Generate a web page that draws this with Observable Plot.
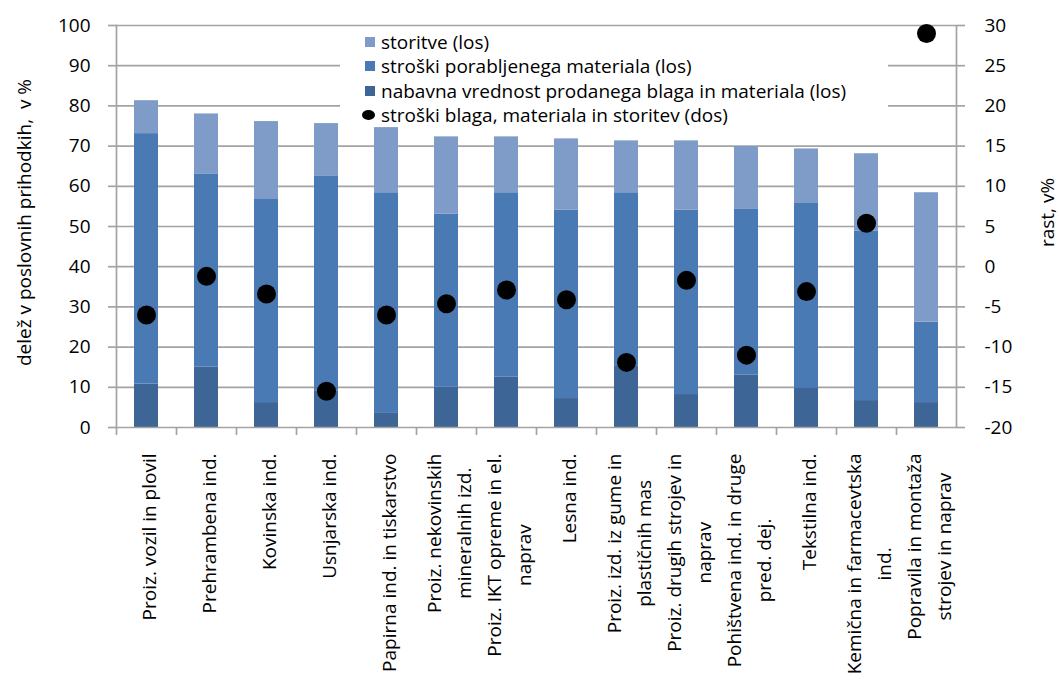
<!DOCTYPE html>
<html>
<head>
<meta charset="utf-8">
<script src="https://cdn.jsdelivr.net/npm/d3@7"></script>
<script src="https://cdn.jsdelivr.net/npm/@observablehq/plot@0.6"></script>
<style>
  html, body { margin: 0; padding: 0; background: #fff; }
  #wrap { position: relative; width: 1059px; height: 682px; font-family: "Open Sans", sans-serif; color: #000; }
  #legend { position: absolute; left: 340px; top: 28px; width: 548px; height: 98px; background: #fff; font-size: 19px; box-sizing: border-box; padding-top: 2px; }
  #legend .row { height: 24.3px; line-height: 24.3px; display: flex; align-items: center; white-space: nowrap; }
  #legend .sw { display: inline-block; width: 10px; height: 10px; margin-left: 25px; margin-right: 6px; }
  #legend .dot { display: inline-block; width: 13px; height: 10px; border-radius: 50%; background: #000; margin-left: 22px; margin-right: 6px; }
</style>
</head>
<body>
<div id="wrap"><div id="legend"></div></div>
<script>
// ---- data ----
const categories = [
  "Proiz. vozil in plovil",
  "Prehrambena ind.",
  "Kovinska ind.",
  "Usnjarska ind.",
  "Papirna ind. in tiskarstvo",
  "Proiz. nekovinskih\nmineralnih izd.",
  "Proiz. IKT opreme in el.\nnaprav",
  "Lesna ind.",
  "Proiz. izd. iz gume in\nplastičnih mas",
  "Proiz. drugih strojev in\nnaprav",
  "Pohištvena ind. in druge\npred. dej.",
  "Tekstilna ind.",
  "Kemična in farmacevtska\nind.",
  "Popravila in montaža\nstrojev in naprav"
];
// share of operating revenue, % (left axis) – stacked components
const nabavna   = [10.8, 15.0, 6.2, 9.0, 3.5, 10.0, 12.5, 7.2, 15.2, 8.2, 13.0, 9.7, 6.7, 6.2];
const materiali = [62.3, 48.1, 50.7, 53.6, 54.9, 43.1, 45.9, 46.9, 43.2, 45.9, 41.4, 46.2, 42.2, 20.0];
const storitve  = [8.2, 14.9, 19.2, 13.0, 16.2, 19.2, 13.9, 17.7, 12.9, 17.2, 15.5, 13.4, 19.2, 32.2];
// growth, % (right axis)
const rast      = [-6.0, -1.2, -3.4, -15.5, -6.0, -4.6, -2.9, -4.1, -11.9, -1.7, -11.0, -3.1, 5.4, 29.0];

const seriesKeys   = ["nabavna", "materiali", "storitve"];
const seriesLabels = {
  storitve: "storitve (los)",
  materiali: "stroški porabljenega materiala (los)",
  nabavna: "nabavna vrednost prodanega blaga  in materiala (los)"
};
const dotLabel = "stroški blaga, materiala in storitev (dos)";
const legendOrder = ["storitve", "materiali", "nabavna"];
const colors = { storitve: "#7f9cc8", materiali: "#4a7ab4", nabavna: "#3d6697" };

const leftTicks  = d3.range(0, 101, 10);
const rightTicks = d3.range(-20, 31, 5);
const yLabel = "delež v poslovnih prihodkih,  v %";
const y2Label = "rast, v%";

// ---- build ----
const values = { nabavna, materiali, storitve };
const rows = categories.flatMap((c, i) => seriesKeys.map(k => ({ cat: c, series: k, value: values[k][i] })));
const dots = categories.map((c, i) => ({ cat: c, g: rast[i] }));
const toLeft = v => (v + 20) * 2; // right axis (-20..30) -> left axis (0..100)

const gray = "#a3a3a3";
const fs = 19;

const chart = Plot.plot({
  width: 1059,
  height: 682,
  marginLeft: 116,
  marginRight: 103,
  marginTop: 25,
  marginBottom: 255,
  style: { fontFamily: "'Open Sans', sans-serif", fontSize: fs + "px", color: "#000", background: "#fff" },
  x: { domain: categories, paddingInner: 0.6, paddingOuter: 0.3, label: null },
  y: { domain: [0, 100], label: null },
  color: { domain: seriesKeys, range: seriesKeys.map(k => colors[k]) },
  marks: [
    Plot.gridY(leftTicks.slice(1), { stroke: gray, strokeOpacity: 1, strokeWidth: 1.7 }),
    Plot.barY(rows, { x: "cat", y: "value", fill: "series", order: seriesKeys }),
    Plot.ruleY([0], { stroke: gray, strokeWidth: 1.7 }),
    Plot.frame({ anchor: "left", stroke: gray, strokeWidth: 1.7 }),
    Plot.frame({ anchor: "right", stroke: gray, strokeWidth: 1.7 }),
    Plot.axisY(leftTicks, { anchor: "left", tickSize: 8, tickPadding: 18, stroke: gray, strokeWidth: 1.7, fontSize: fs, label: null }),
    Plot.axisY(rightTicks.map(toLeft), { anchor: "right", tickSize: 8, tickPadding: 20, stroke: gray, strokeWidth: 1.7, fontSize: fs, tickFormat: d => String(d / 2 - 20), label: null }),
    Plot.axisX({ tickSize: 8, dx: -30, stroke: gray, strokeWidth: 1.7, tickFormat: () => "", label: null }),
    Plot.axisX({ tickSize: 0, tickPadding: 26, tickRotate: -90, lineHeight: 1.6, fontSize: fs, label: null }),
    Plot.text([yLabel], { frameAnchor: "left", textAnchor: "middle", lineAnchor: "middle", dx: -92, dy: -4, rotate: -90, fontSize: fs, fill: "#000" }),
    Plot.text([y2Label], { frameAnchor: "right", textAnchor: "middle", lineAnchor: "middle", dx: 91, dy: -14, rotate: -90, fontSize: fs, fill: "#000" }),
    Plot.dot(dots, { x: "cat", y: d => toLeft(d.g), r: 9.5, fill: "#000", stroke: null })
  ]
});

const wrap = document.getElementById("wrap");
wrap.insertBefore(chart, wrap.firstChild);
chart.style.position = "absolute";
chart.style.left = "0";
chart.style.top = "0";

// center the lines of multi-line category labels on each other (as in the original)
chart.querySelectorAll('[aria-label="x-axis tick label"] text').forEach(t => {
  const spans = t.querySelectorAll("tspan");
  if (spans.length < 2) return;
  const L = Math.max(...[...spans].map(s => s.getComputedTextLength()));
  t.setAttribute("text-anchor", "middle");
  spans.forEach(s => s.setAttribute("x", -L / 2));
});

// legend
const legend = document.getElementById("legend");
legendOrder.forEach(k => {
  const r = document.createElement("div");
  r.className = "row";
  const s = document.createElement("span");
  s.className = "sw";
  s.style.background = colors[k];
  r.appendChild(s);
  r.appendChild(document.createTextNode(seriesLabels[k]));
  legend.appendChild(r);
});
{
  const r = document.createElement("div");
  r.className = "row";
  const s = document.createElement("span");
  s.className = "dot";
  r.appendChild(s);
  r.appendChild(document.createTextNode(dotLabel));
  legend.appendChild(r);
}
</script>
</body>
</html>
